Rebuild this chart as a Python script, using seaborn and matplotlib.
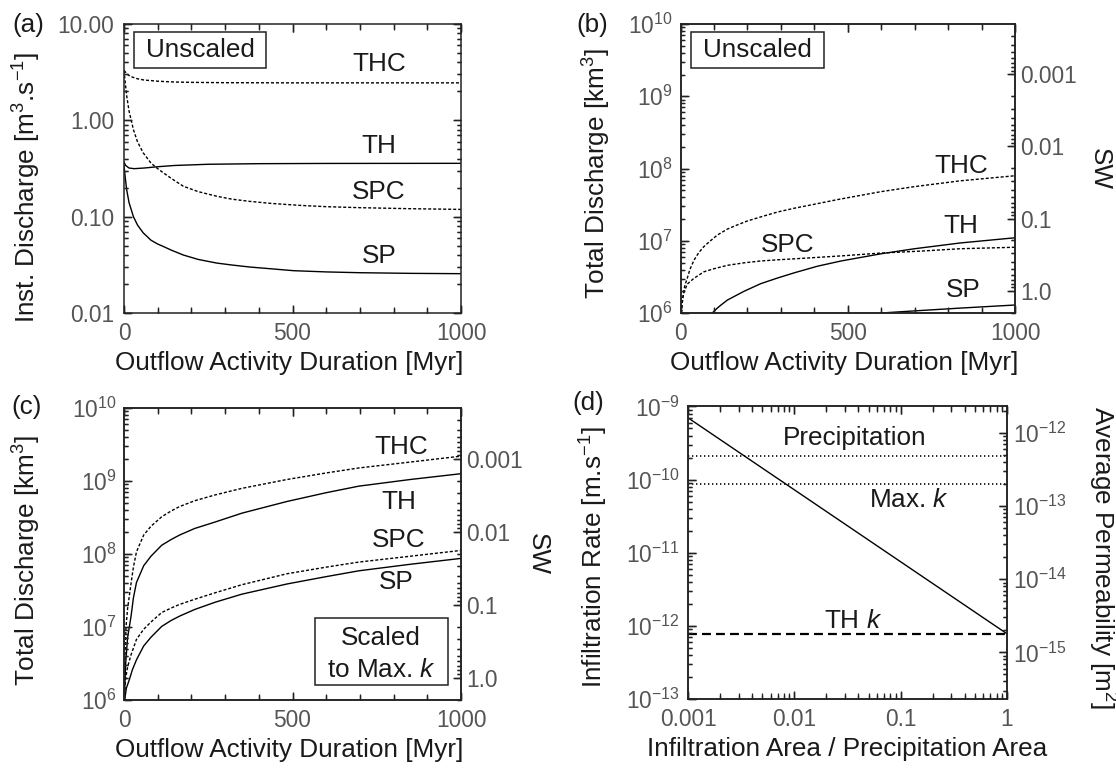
import matplotlib
matplotlib.use("Agg")
import matplotlib.pyplot as plt
import matplotlib.ticker as mticker
from matplotlib.patches import Rectangle
import seaborn as sns

sns.set_theme(style='ticks', context='paper')
plt.rcParams['font.family'] = ['Liberation Sans', 'DejaVu Sans']
plt.rcParams['mathtext.fontset'] = 'custom'
plt.rcParams['mathtext.rm'] = 'Liberation Sans'
plt.rcParams['mathtext.it'] = 'Liberation Sans:italic'
plt.rcParams['mathtext.sf'] = 'Liberation Sans'
plt.rcParams['mathtext.bf'] = 'Liberation Sans:bold'
plt.rcParams['axes.axisbelow'] = False
for a in ('xtick', 'ytick'):
    plt.rcParams[a + '.direction'] = 'in'
    plt.rcParams[a + '.major.size'] = 5.5
    plt.rcParams[a + '.minor.size'] = 2.8
    plt.rcParams[a + '.major.width'] = 1.0
    plt.rcParams[a + '.minor.width'] = 0.9
    plt.rcParams[a + '.color'] = '#222222'
    plt.rcParams[a + '.labelcolor'] = '#555555'

# ---- (a) instantaneous discharge [m3/s] vs time [Myr]
thc_a_t = [0, 5, 10, 20, 40, 60, 100, 150, 200, 300, 500, 700, 1000]
thc_a_q = [3.3, 3.15, 3.0, 2.85, 2.7, 2.62, 2.55, 2.5, 2.48, 2.46, 2.45, 2.45, 2.45]
spc_a_t = [0, 4, 8, 15, 28, 40, 57, 80, 100, 117, 140, 176, 220, 275, 320, 374, 440, 522, 600, 700, 850, 1000]
spc_a_q = [3.3, 2.4, 1.8, 1.25, 0.8, 0.6, 0.46, 0.36, 0.315, 0.285, 0.25, 0.207, 0.182, 0.163, 0.152,
           0.144, 0.137, 0.131, 0.127, 0.124, 0.121, 0.119]
th_a_t = [0, 5, 15, 30, 60, 100, 150, 250, 400, 600, 1000]
th_a_q = [0.37, 0.34, 0.32, 0.315, 0.32, 0.33, 0.34, 0.35, 0.355, 0.357, 0.358]
sp_a_t = [0, 4, 8, 15, 28, 40, 57, 80, 100, 117, 140, 176, 220, 275, 320, 374, 440, 503, 600, 700, 850, 1000]
sp_a_q = [0.34, 0.25, 0.19, 0.14, 0.10, 0.082, 0.068, 0.057, 0.052, 0.049, 0.045, 0.040, 0.036, 0.033,
          0.0315, 0.030, 0.0287, 0.0275, 0.0267, 0.0262, 0.0258, 0.0256]

# ---- (b) total discharge [km3], unscaled
thc_b_t = [3, 5, 10, 14, 20, 28, 40, 55, 70, 85, 110, 140, 170, 200, 240, 290, 340, 400, 470, 600, 700, 837, 1000]
thc_b_q = [1.0e6, 1.35e6, 2.09e6, 2.5e6, 3.02e6, 4.0e6, 5.37e6, 6.9e6, 8.32e6, 9.6e6, 1.20e7, 1.45e7,
           1.66e7, 1.88e7, 2.14e7, 2.5e7, 2.82e7, 3.2e7, 3.72e7, 4.79e7, 5.62e7, 6.76e7, 7.94e7]
spc_b_t = [2, 5, 10, 20, 40, 70, 100, 140, 190, 240, 290, 340, 480, 600, 720, 837, 1000]
spc_b_q = [1.0e6, 1.51e6, 1.91e6, 2.51e6, 3.02e6, 3.72e6, 4.1e6, 4.57e6, 4.95e6, 5.25e6, 5.45e6, 5.62e6,
           6.17e6, 6.76e6, 7.2e6, 7.76e6, 8.13e6]
th_b_t = [95, 110, 120, 140, 190, 240, 290, 340, 410, 480, 600, 700, 837, 1000]
th_b_q = [1.0e6, 1.17e6, 1.28e6, 1.51e6, 2.0e6, 2.55e6, 3.05e6, 3.6e6, 4.45e6, 5.25e6, 6.61e6, 7.76e6, 9.33e6, 1.10e7]
sp_b_t = [600, 700, 837, 1000]
sp_b_q = [1.0e6, 1.07e6, 1.17e6, 1.29e6]

# ---- (c) total discharge [km3], scaled to max k
thc_c_t = [0.5, 3, 6, 10.6, 21, 28, 37, 58.5, 80, 112, 140, 165, 210, 271, 350, 484, 600, 697, 850, 1000]
thc_c_q = [1.0e6, 3.98e6, 1.0e7, 1.78e7, 3.98e7, 6.61e7, 1.07e8, 1.82e8, 2.40e8, 3.24e8, 3.89e8, 4.47e8,
           5.37e8, 6.46e8, 7.94e8, 1.05e9, 1.29e9, 1.51e9, 1.82e9, 2.19e9]
th_c_t = [1, 5, 10.6, 21, 28, 37, 58.5, 80, 112, 140, 165, 210, 271, 350, 484, 600, 697, 850, 1000]
th_c_q = [1.0e6, 3.16e6, 7.08e6, 1.41e7, 2.51e7, 4.07e7, 6.92e7, 9.33e7, 1.32e8, 1.58e8, 1.82e8, 2.24e8,
          2.75e8, 3.63e8, 5.25e8, 6.92e8, 8.51e8, 1.05e9, 1.26e9]
spc_c_t = [0.5, 5, 10.6, 21, 37, 58.5, 80, 112, 140, 165, 210, 271, 350, 484, 600, 697, 850, 1000]
spc_c_q = [1.0e6, 2.0e6, 2.82e6, 4.17e6, 6.76e6, 9.33e6, 1.17e7, 1.58e7, 1.82e7, 2.04e7, 2.40e7, 2.95e7,
           3.80e7, 5.37e7, 6.61e7, 7.76e7, 9.33e7, 1.12e8]
sp_c_t = [2, 7, 16, 25, 37, 58.5, 80, 112, 140, 165, 210, 271, 350, 484, 600, 697, 850, 1000]
sp_c_q = [1.0e6, 1.45e6, 1.91e6, 2.6e6, 3.55e6, 5.5e6, 7.24e6, 1.02e7, 1.23e7, 1.41e7, 1.74e7, 2.19e7,
          2.82e7, 3.89e7, 4.90e7, 5.89e7, 7.24e7, 8.71e7]

# ---- (d) infiltration rate [m/s] vs area ratio
area_ends = [0.001, 1.0]
rate_line = [7.0e-10, 7.8e-13]
precip_rate = 2.1e-10
maxk_rate = 8.7e-11
thk_rate = 7.8e-13

sw_ticks = [0.001, 0.01, 0.1, 1.0]
sw_labels = ['0.001', '0.01', '0.1', '1.0']

TICK_FS = 16.4
LABEL_FS = 18.8
INK = '#1a1a1a'
TICK_INK = '#222222'
SHORT_DASH = (0, (2.2, 1.4))


def frame(ax, right=True):
    for s in ax.spines.values():
        s.set_linewidth(1.1)
        s.set_color(TICK_INK)
    ax.tick_params(which='both', direction='in', top=True, right=right, labelsize=TICK_FS)
    ax.tick_params(which='major', length=5.5, width=1.0)
    ax.tick_params(which='minor', length=2.8, width=0.9)


def time_axis(ax):
    ax.set_xlim(0, 1000)
    ax.xaxis.set_major_locator(mticker.MultipleLocator(500))
    ax.xaxis.set_minor_locator(mticker.MultipleLocator(100))
    ax.tick_params(axis='x', which='minor', length=4)
    ax.tick_params(axis='x', which='major', pad=6.8)
    ax.set_xlabel('Outflow Activity Duration [Myr]', fontsize=LABEL_FS, color=INK)
    ax.xaxis.label.set_va('center')
    ax.xaxis.set_label_coords(0.49, -0.173)


def log_minor(axis):
    axis.set_minor_locator(mticker.LogLocator(base=10, subs=range(2, 10), numticks=50))
    axis.set_minor_formatter(mticker.NullFormatter())


def curve(ax, t, q, dashed=False, lw=1.0):
    sns.lineplot(x=t, y=q, ax=ax, color='black', linewidth=lw,
                 linestyle=SHORT_DASH if dashed else '-')


def unscaled_box(ax, x0, x1):
    ax.add_patch(Rectangle((x0, 0.847), x1 - x0, 0.126, transform=ax.transAxes,
                           fill=False, lw=1.1, ec=TICK_INK, zorder=5))
    ax.text((x0 + x1) / 2, 0.91, 'Unscaled', transform=ax.transAxes, ha='center',
            va='center', fontsize=LABEL_FS, color=INK)


def sw_axis(ax, xpos):
    ax2 = ax.twinx()
    ax2.set_yscale('log')
    ax2.set_ylim(2.03, 2.03e-4)
    ax2.set_yticks(sw_ticks, labels=sw_labels)
    log_minor(ax2.yaxis)
    frame(ax2)
    ax2.tick_params(which='both', left=False, right=True)
    ax2.tick_params(axis='y', which='major', pad=4)
    ax2.set_ylabel('SW', fontsize=LABEL_FS, color=INK, rotation=270)
    ax2.yaxis.label.set_va('center')
    ax2.yaxis.set_label_coords(xpos, 0.5)
    return ax2


def _inside(locs, lims):
    lo, hi = sorted(lims)
    return [v for v in locs if lo - abs(lo) * 1e-9 <= v <= hi + abs(hi) * 1e-9]


def draw_ticks(ax, xsides=(), ysides=(), xminor=4.0, yminor=3.6, major=7.5):
    # tick marks as inward line segments at the axis locators' positions
    pos = ax.get_position()
    wpx = pos.width * fig.get_figwidth() * fig.dpi
    hpx = pos.height * fig.get_figheight() * fig.dpi
    kw = dict(colors=TICK_INK, clip_on=False, zorder=6)
    for locs, length in [(ax.xaxis.get_majorticklocs(), major), (ax.xaxis.get_minorticklocs(), xminor)]:
        locs = _inside(locs, ax.get_xlim())
        for side in xsides:
            f = length / hpx
            y0, y1 = (0, f) if side == 'bottom' else (1 - f, 1)
            ax.vlines(locs, y0, y1, transform=ax.get_xaxis_transform(), linewidth=1.0, **kw)
    for locs, length in [(ax.yaxis.get_majorticklocs(), major), (ax.yaxis.get_minorticklocs(), yminor)]:
        locs = _inside(locs, ax.get_ylim())
        for side in ysides:
            f = length / wpx
            x0, x1 = (0, f) if side == 'left' else (1 - f, 1)
            ax.hlines(locs, x0, x1, transform=ax.get_yaxis_transform(), linewidth=1.0, **kw)


fig = plt.figure(figsize=(11.16, 7.70), dpi=100)

# ------------------------------------------------------------------ (a)
ax_a = fig.add_axes([0.1111, 0.5935, 0.3020, 0.3753])
ax = ax_a
ax.set_yscale('log')
curve(ax, thc_a_t, thc_a_q, dashed=True)
curve(ax, spc_a_t, spc_a_q, dashed=True)
curve(ax, th_a_t, th_a_q)
curve(ax, sp_a_t, sp_a_q)
ax.set_ylim(0.01, 10)
frame(ax)
time_axis(ax)
log_minor(ax.yaxis)
ax.yaxis.set_major_formatter(mticker.FuncFormatter(lambda v, p: '%.2f' % v))
ax.tick_params(axis='y', which='major', pad=7)
ax.set_ylabel('Inst. Discharge [m$^3$.s$^{-1}$]', fontsize=LABEL_FS, color=INK)
ax.yaxis.label.set_va('center')
ax.yaxis.set_label_coords(-0.288, 0.434)
for name, y in [('THC', 3.87), ('TH', 0.545), ('SPC', 0.181), ('SP', 0.039)]:
    ax.text(757, y, name, ha='center', va='center', fontsize=LABEL_FS, color=INK)
unscaled_box(ax, 0.029, 0.422)

# ------------------------------------------------------------------ (b)
ax_b = fig.add_axes([0.6098, 0.5935, 0.2997, 0.3753])
ax = ax_b
ax.set_yscale('log')
curve(ax, thc_b_t, thc_b_q, dashed=True)
curve(ax, spc_b_t, spc_b_q, dashed=True)
curve(ax, th_b_t, th_b_q)
curve(ax, sp_b_t, sp_b_q)
ax.set_ylim(1e6, 1e10)
frame(ax, right=False)
time_axis(ax)
log_minor(ax.yaxis)
ax.tick_params(axis='y', which='major', pad=5.4)
ax.set_ylabel('Total Discharge [km$^3$]', fontsize=LABEL_FS, color=INK)
ax.yaxis.label.set_va('center')
ax.yaxis.set_label_coords(-0.25, 0.483)
for name, x, y in [('THC', 839, 1.1e8), ('TH', 839, 1.6e7), ('SPC', 319, 8.7e6), ('SP', 845, 2.1e6)]:
    ax.text(x, y, name, ha='center', va='center', fontsize=LABEL_FS, color=INK)
unscaled_box(ax, 0.030, 0.429)
ax_b2 = sw_axis(ax, 1.254)

# ------------------------------------------------------------------ (c)
ax_c = fig.add_axes([0.1111, 0.0909, 0.3020, 0.3792])
ax = ax_c
ax.set_yscale('log')
curve(ax, thc_c_t, thc_c_q, dashed=True)
curve(ax, spc_c_t, spc_c_q, dashed=True)
curve(ax, th_c_t, th_c_q)
curve(ax, sp_c_t, sp_c_q)
ax.set_ylim(1e6, 1e10)
frame(ax, right=False)
time_axis(ax)
ax.xaxis.set_label_coords(0.49, -0.172)
log_minor(ax.yaxis)
ax.tick_params(axis='y', which='major', pad=5.4)
ax.set_ylabel('Total Discharge [km$^3$]', fontsize=LABEL_FS, color=INK)
ax.yaxis.label.set_va('center')
ax.yaxis.set_label_coords(-0.288, 0.476)
for name, x, y in [('THC', 824, 2.9e9), ('TH', 814, 5.2e8), ('SPC', 814, 1.55e8), ('SP', 809, 4.1e7)]:
    ax.text(x, y, name, ha='center', va='center', fontsize=LABEL_FS, color=INK)
ax.add_patch(Rectangle((0.567, 0.052), 0.393, 0.228, transform=ax.transAxes,
                       fill=False, lw=1.1, ec=TICK_INK, zorder=5))
ax.text(0.763, 0.213, 'Scaled', transform=ax.transAxes, ha='center', va='center',
        fontsize=LABEL_FS, color=INK)
ax.text(0.763, 0.104, 'to Max. $k$', transform=ax.transAxes, ha='center', va='center',
        fontsize=LABEL_FS, color=INK)
ax_c2 = sw_axis(ax, 1.228)

# ------------------------------------------------------------------ (d)
ax_d = fig.add_axes([0.6165, 0.0922, 0.2858, 0.3799])
ax = ax_d
ax.set_xscale('log')
ax.set_yscale('log')
sns.lineplot(x=area_ends, y=rate_line, ax=ax, color='black', linewidth=1.0)
sns.lineplot(x=area_ends, y=[precip_rate, precip_rate], ax=ax, color='black',
             linewidth=1.2, linestyle=(0, (0.8, 1.6)))
sns.lineplot(x=area_ends, y=[maxk_rate, maxk_rate], ax=ax, color='black',
             linewidth=1.2, linestyle=(0, (0.8, 1.6)))
sns.lineplot(x=area_ends, y=[thk_rate, thk_rate], ax=ax, color='black',
             linewidth=1.6, linestyle=(0, (4, 2.3)))
ax.set_xlim(0.001, 1)
ax.set_ylim(1e-13, 1e-9)
frame(ax, right=False)
log_minor(ax.xaxis)
log_minor(ax.yaxis)
ax.tick_params(axis='x', which='minor', length=4)
ax.tick_params(axis='x', which='major', pad=6.8)
ax.tick_params(axis='y', which='major', pad=6)
ax.xaxis.set_major_formatter(mticker.FuncFormatter(lambda v, p: '%g' % v))
ax.set_xlabel('Infiltration Area / Precipitation Area', fontsize=LABEL_FS, color=INK)
ax.xaxis.label.set_va('center')
ax.xaxis.set_label_coords(0.5, -0.172)
ax.set_ylabel('Infiltration Rate [m.s$^{-1}$]', fontsize=LABEL_FS, color=INK)
ax.yaxis.label.set_va('center')
ax.yaxis.set_label_coords(-0.296, 0.486)
ax.text(0.037, 3.7e-10, 'Precipitation', ha='center', va='center', fontsize=LABEL_FS, color=INK)
ax.text(0.12, 5.2e-11, 'Max. $k$', ha='center', va='center', fontsize=LABEL_FS, color=INK)
ax.text(0.036, 1.16e-12, 'TH $k$', ha='center', va='center', fontsize=LABEL_FS, color=INK)

ax_d2 = ax.twinx()
ax_d2.set_yscale('log')
ax_d2.set_ylim(2.3e-16, 2.3e-12)
ax_d2.yaxis.set_major_locator(mticker.LogLocator(base=10, numticks=20))
log_minor(ax_d2.yaxis)
frame(ax_d2)
ax_d2.tick_params(which='both', left=False, right=True)
ax_d2.tick_params(axis='y', which='major', pad=4.5)
ax_d2.set_ylabel('Average Permeability [m$^2$]', fontsize=LABEL_FS, color=INK, rotation=270)
ax_d2.yaxis.label.set_va('center')
ax_d2.yaxis.set_label_coords(1.298, 0.482)

# panel letters
for letter, px, py in [('(a)', 28, 25), ('(b)', 592, 25), ('(c)', 27, 407), ('(d)', 588, 403)]:
    fig.text(px / 1116, 1 - py / 770, letter, ha='center', va='center',
             fontsize=LABEL_FS, color=INK)

# inward tick marks on every frame side, taken from each axis' own locators
draw_ticks(ax_a, xsides=('bottom', 'top'), ysides=('left', 'right'), xminor=5.0)
draw_ticks(ax_b, xsides=('bottom', 'top'), ysides=('left',), xminor=5.0)
draw_ticks(ax_b2, ysides=('right',))
draw_ticks(ax_c, xsides=('bottom', 'top'), ysides=('left',), xminor=5.0)
draw_ticks(ax_c2, ysides=('right',))
draw_ticks(ax_d, xsides=('bottom', 'top'), ysides=('left',), xminor=4.5)
draw_ticks(ax_d2, ysides=('right',))

fig.savefig('out.png', dpi=100)
